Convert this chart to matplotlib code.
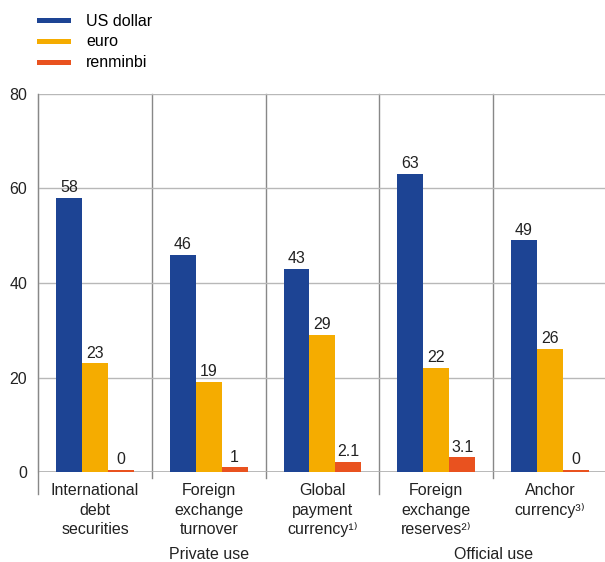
import matplotlib.pyplot as plt
import numpy as np

plt.rcParams['font.family'] = ['Liberation Sans', 'DejaVu Sans']

## DATA
categories = ['International\ndebt\nsecurities',
              'Foreign\nexchange\nturnover',
              'Global\npayment\ncurrency\u00b9\u207e',
              'Foreign\nexchange\nreserves\u00b2\u207e',
              'Anchor\ncurrency\u00b3\u207e']
groups = ['Private use', 'Official use']
series = ['US dollar', 'euro', 'renminbi']
usd = [58, 46, 43, 63, 49]
eur = [23, 19, 29, 22, 26]
rmb = [0.4, 1, 2.1, 3.1, 0.4]
rmb_labels = ['0', '1', '2.1', '3.1', '0']

colors = ['#1d4494', '#f5ac00', '#e9521f']
fs = 11.5

fig = plt.figure(figsize=[6.05, 5.62], dpi=100)
ax = fig.add_axes([0.063, 0.160, 0.94, 0.673])

x = np.arange(len(categories))
w = 0.228
vals = [usd, eur, rmb]
for i, (name, v, c) in enumerate(zip(series, vals, colors)):
    pos = x + (i - 1) * w
    ax.bar(pos, v, width=w, color=c, label=name, zorder=3)
    labs = rmb_labels if i == 2 else [str(n) for n in v]
    for px, py, t in zip(pos, v, labs):
        ax.text(px, py + 0.6, t, ha='center', va='bottom', fontsize=fs,
                color='#222222', zorder=4)

ax.set_xlim(-0.5, len(categories) - 0.5)
ax.set_ylim(0, 80)
ax.set_yticks([0, 20, 40, 60, 80])
ax.tick_params(axis='y', length=0, pad=8, labelsize=fs, labelcolor='#222222')
ax.set_xticks([])
ax.grid(axis='y', color='#b8b8b8', linewidth=1.0, zorder=0)
for s in ['top', 'right', 'bottom']:
    ax.spines[s].set_visible(False)
ax.spines['left'].set_color('#888888')
ax.axhline(0, color='#b0b0b0', linewidth=1.2, zorder=2)

# group separators, longer ones split private / official use
trans = ax.get_xaxis_transform()
for sep in np.arange(-0.5, len(categories), 1.0):
    low = -0.058 if sep in (-0.5, 2.5) else -0.016
    ax.plot([sep, sep], [low, 1.0], transform=trans, color='#888888',
            linewidth=1.0, clip_on=False, zorder=1)

# category labels
for xi, lab in zip(x, categories):
    ax.text(xi, -0.029, lab, transform=trans, ha='center', va='top',
            fontsize=fs, color='#222222', linespacing=1.38)
ax.text(1.0, -0.217, groups[0], transform=trans, ha='center', va='center',
        fontsize=fs, color='#222222')
ax.text(3.5, -0.217, groups[1], transform=trans, ha='center', va='center',
        fontsize=fs, color='#222222')

fig.legend(loc='upper left', bbox_to_anchor=(0.045, 0.993), frameon=False,
           fontsize=fs, handlelength=2.15, handleheight=0.3, labelspacing=0.37,
           handletextpad=0.95, borderaxespad=0.2)
leg = fig.legends[0]
for h in leg.legend_handles:
    h.set_height(4)

plt.savefig('out.png', dpi=100)
